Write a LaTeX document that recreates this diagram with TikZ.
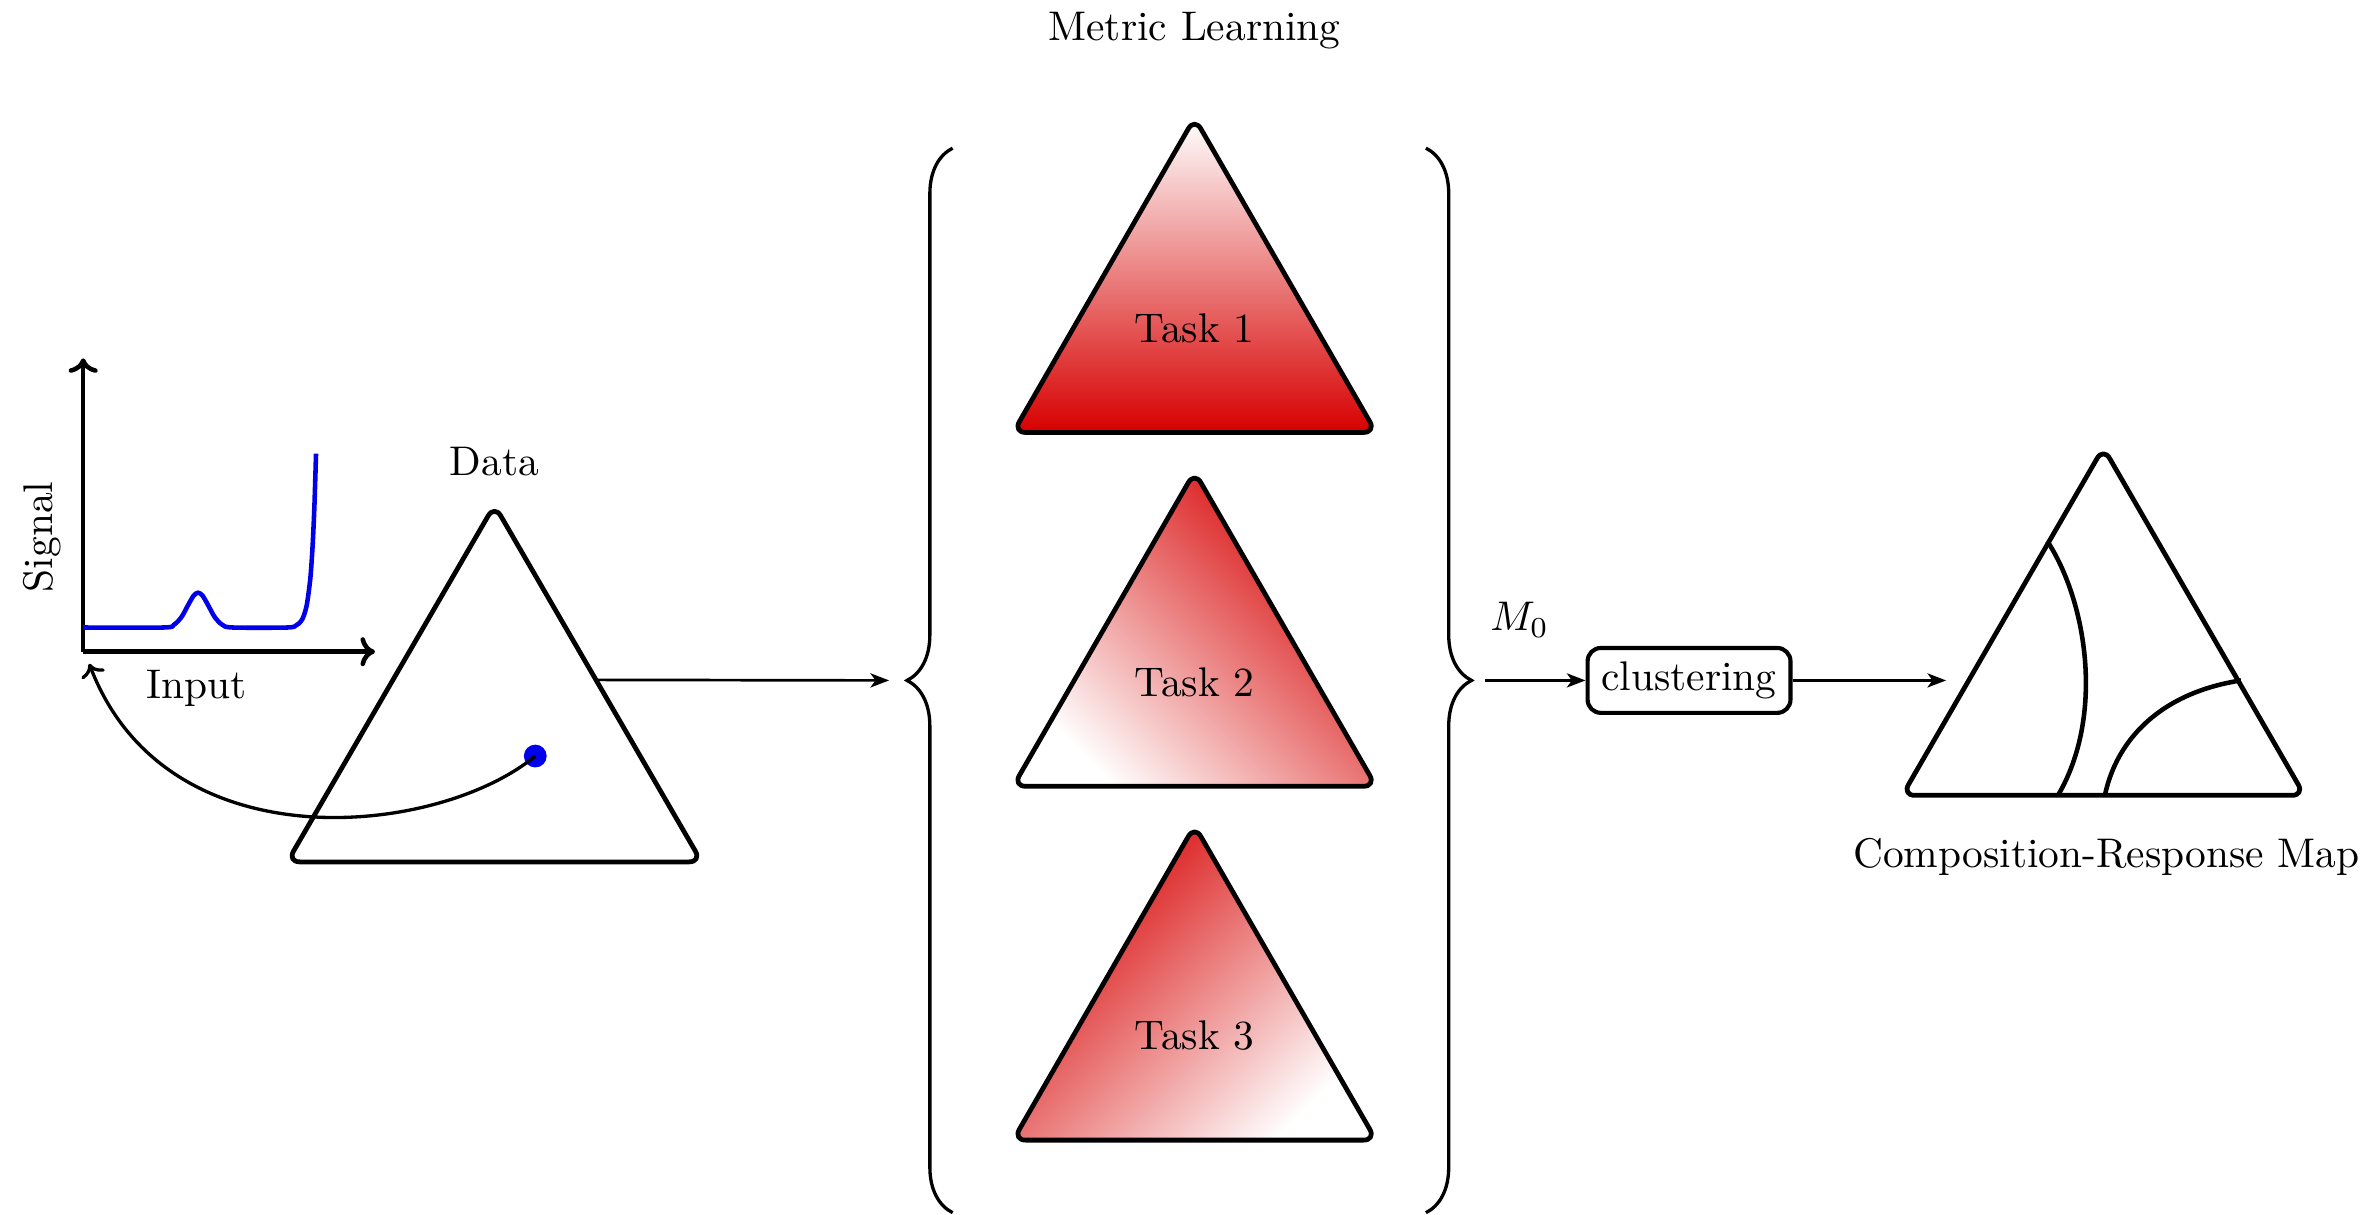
\documentclass[tikz,border=0pt]{standalone}
\usetikzlibrary{arrows.meta,decorations.pathreplacing,calc}
\definecolor{tred}{RGB}{215,0,0}
\definecolor{sigblue}{RGB}{0,0,235}
\begin{document}
\begin{tikzpicture}[x=0.365pt,y=0.365pt,
  tri/.style={draw=black, line width=1.15pt, rounded corners=3pt, line join=round},
  conn/.style={line width=0.65pt, -{Stealth[length=4.5pt,width=3.4pt,inset=1.2pt]}},
  axisline/.style={line width=1.1pt, -{Computer Modern Rightarrow[length=3.5pt,width=7pt]}},
  bracestyle/.style={line width=0.8pt, decorate, decoration={brace, amplitude=11pt}},
  boundary/.style={line width=1.1pt}
]
\useasboundingbox (0,0) rectangle (1568,803);

% ---------- spectrum plot ----------
\coordinate (O) at (55,372);
\coordinate (ytop) at (55,566);
\coordinate (xend) at (248,372);
\draw[axisline] (O) -- (ytop);
\draw[axisline] (O) -- (xend);
\node[rotate=90] (signal) at (28,448) {Signal};
\node (input) at (130,348) {Input};
\draw[sigblue, line width=1.1pt] plot[smooth, tension=0.5] coordinates {
 (55,388) (108,388) (115,389.8) (120,394.9) (124,402.1) (128,409) (131,411)
 (134,409) (138,402.1) (142,394.9) (147,389.8) (154,388) (190,388)
 (196,389.5) (199,392.1) (201,396) (203,403.6) (205,418.3) (206,430.3)
 (207,447) (208,470.4) (209,503)};

% ---------- data triangle ----------
\coordinate (dA) at (327,469);
\coordinate (dL) at (190,233);
\coordinate (dR) at (464,233);
\draw[tri] (dA) -- (dR) -- (dL) -- cycle;
\node (data) at (327,498) {Data};
\node[circle, fill=sigblue, minimum size=5.5pt, inner sep=0pt] (dot) at (354,303) {};
\coordinate (ret) at (59,364);
\draw[line width=0.8pt, -{Computer Modern Rightarrow[length=3pt,width=6pt]}]
  (dot.center) .. controls (290,250) and (110,230) .. (ret);

% ---------- connector to braces ----------
\coordinate (dout) at ($(dA)!0.49!(dR)$);
\coordinate (lin) at (588,353);
\draw[conn] (dout) -- (lin);

% ---------- braces ----------
\coordinate (lbb) at (630,1);
\coordinate (lbt) at (630,705);
\draw[bracestyle] (lbb) -- (lbt);
\coordinate (rbt) at (943,705);
\coordinate (rbb) at (943,1);
\draw[bracestyle] (rbt) -- (rbb);

\node (ml) at (790,783) {Metric Learning};

% ---------- tasks ----------
\coordinate (t1a) at (790,725);
\coordinate (t1l) at (670,517);
\coordinate (t1r) at (910,517);
\path[tri, top color=white, bottom color=tred] (t1a) -- (t1r) -- (t1l) -- cycle;
\node (task1) at (790,586) {Task 1};

\coordinate (t2a) at (790,491);
\coordinate (t2l) at (670,283);
\coordinate (t2r) at (910,283);
\path[tri, top color=tred, bottom color=white, shading angle=-45] (t2a) -- (t2r) -- (t2l) -- cycle;
\node (task2) at (790,352) {Task 2};

\coordinate (t3a) at (790,257);
\coordinate (t3l) at (670,49);
\coordinate (t3r) at (910,49);
\path[tri, top color=tred, bottom color=white, shading angle=45] (t3a) -- (t3r) -- (t3l) -- cycle;
\node (task3) at (790,118) {Task 3};

% ---------- clustering ----------
\coordinate (rbout) at (982,353);
\node[draw, rounded corners=3.2pt, line width=1pt] (clu) at (1117,353) {clustering};
\draw[conn] (rbout) -- (clu.west);
\node (m0) at (1005,393) {$M_0$};
\coordinate (crmin) at (1287,353);
\draw[conn] (clu.east) -- (crmin);

% ---------- composition-response map ----------
\coordinate (cA) at (1391,507);
\coordinate (cL) at (1258,277);
\coordinate (cR) at (1524,277);
\draw[tri] (cA) -- (cR) -- (cL) -- cycle;
\draw[boundary] (1354,445) .. controls (1380,405) and (1392,330) .. (1361,277);
\draw[boundary] (1392,277) .. controls (1400,315) and (1430,345) .. (1482,353);
\node (crm) at (1393,236) {Composition-Response Map};
\end{tikzpicture}
\end{document}
